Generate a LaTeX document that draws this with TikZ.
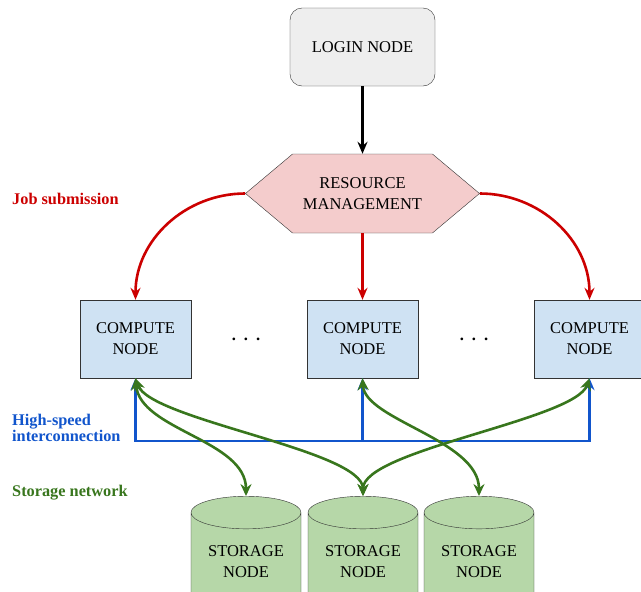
\documentclass[tikz,border=0pt]{standalone}
\usepackage{fontspec}
\setmainfont{Liberation Serif}
\usetikzlibrary{shapes.geometric,shapes.symbols,arrows.meta}
\definecolor{loginfill}{HTML}{EEEEEE}
\definecolor{rmfill}{HTML}{F4CCCC}
\definecolor{computefill}{HTML}{CFE2F3}
\definecolor{storagefill}{HTML}{B6D7A8}
\definecolor{jobred}{HTML}{CC0000}
\definecolor{busblue}{HTML}{1155CC}
\definecolor{storegreen}{HTML}{38761D}

\begin{document}
\begin{tikzpicture}[x=1pt,y=1pt]
	\tikzstyle{every node}+=[font=\fontsize{16.5}{21}\selectfont, align=center, inner sep=0pt]
	\tikzstyle{login}=[draw=black!80, fill=loginfill, rounded corners=12pt, minimum width=145pt, minimum height=78pt]
	\tikzstyle{resource}=[signal, signal to=west and east, signal pointer angle=80, draw=black!80, fill=rmfill, minimum width=234pt, minimum height=79pt]
	\tikzstyle{compute}=[draw=black!80, fill=computefill, minimum width=111pt, minimum height=78pt]
	\tikzstyle{storage}=[cylinder, shape border rotate=90, aspect=0.43, draw=black!80, fill=storagefill, minimum width=110pt, minimum height=114pt]
	\tikzstyle{legend}=[anchor=west, align=left, font=\fontsize{16.3}{16}\selectfont\bfseries]
	\tikzstyle{job}=[jobred, line width=2.6pt, -{Stealth[length=12pt,width=10pt]}]
	\tikzstyle{bus}=[busblue, line width=2.6pt]
	\tikzstyle{store}=[storegreen, line width=2.6pt, {Stealth[length=12pt,width=11pt]}-{Stealth[length=12pt,width=11pt]}]
	\useasboundingbox (0,0) rectangle (641,-592);
	\node [login] (login) at (362.5,-47) {LOGIN NODE};
	\node [resource] (rm) at (362.5,-193.5) {RESOURCE\\MANAGEMENT};
	\node [compute] (c1) at (135.5,-339) {COMPUTE\\NODE};
	\node [compute] (c2) at (362.5,-339) {COMPUTE\\NODE};
	\node [compute] (c3) at (589.5,-339) {COMPUTE\\NODE};
	\node (dots1) at (246,-339) {\textbf{.\hspace{8pt}.\hspace{8pt}.}};
	\node (dots2) at (474,-339) {\textbf{.\hspace{8pt}.\hspace{8pt}.}};
	\node [storage] (s1) at (246,-561.5) {STORAGE\\NODE};
	\node [storage] (s2) at (363,-561.5) {STORAGE\\NODE};
	\node [storage] (s3) at (479,-561.5) {STORAGE\\NODE};
	\node [legend, text=jobred] (jobtxt) at (12,-199) {Job submission};
	\node [legend, text=busblue] (bustxt) at (12,-428) {High-speed\\interconnection};
	\node [legend, text=storegreen] (storetxt) at (12,-493) {Storage network};
	\coordinate (busline) at (0,-441);
	\draw [black, line width=2.6pt, -{Stealth[length=12pt,width=10pt]}] (login) -- (rm);
	\draw [job] (rm.west) to[out=180,in=90] (c1.north);
	\draw [job] (rm.south) -- (c2.north);
	\draw [job] (rm.east) to[out=0,in=90] (c3.north);
	\draw [bus, {Stealth[length=12pt,width=10pt]}-{Stealth[length=12pt,width=10pt]}] (c1.south) -- (c1.south |- busline) -| (c3.south);
	\draw [bus, -{Stealth[length=12pt,width=10pt]}] (c2.south |- busline) -- (c2.south);
	\draw [store] (c1.south) .. controls (140,-430) and (246,-440) .. (s1.north);
	\draw [store] (c1.south) .. controls (150,-420) and (363,-450) .. (s2.north);
	\draw [store] (c2.south) .. controls (365,-420) and (479,-440) .. (s3.north);
	\draw [store] (c3.south) .. controls (575,-420) and (363,-450) .. (s2.north);
\end{tikzpicture}
\end{document}
